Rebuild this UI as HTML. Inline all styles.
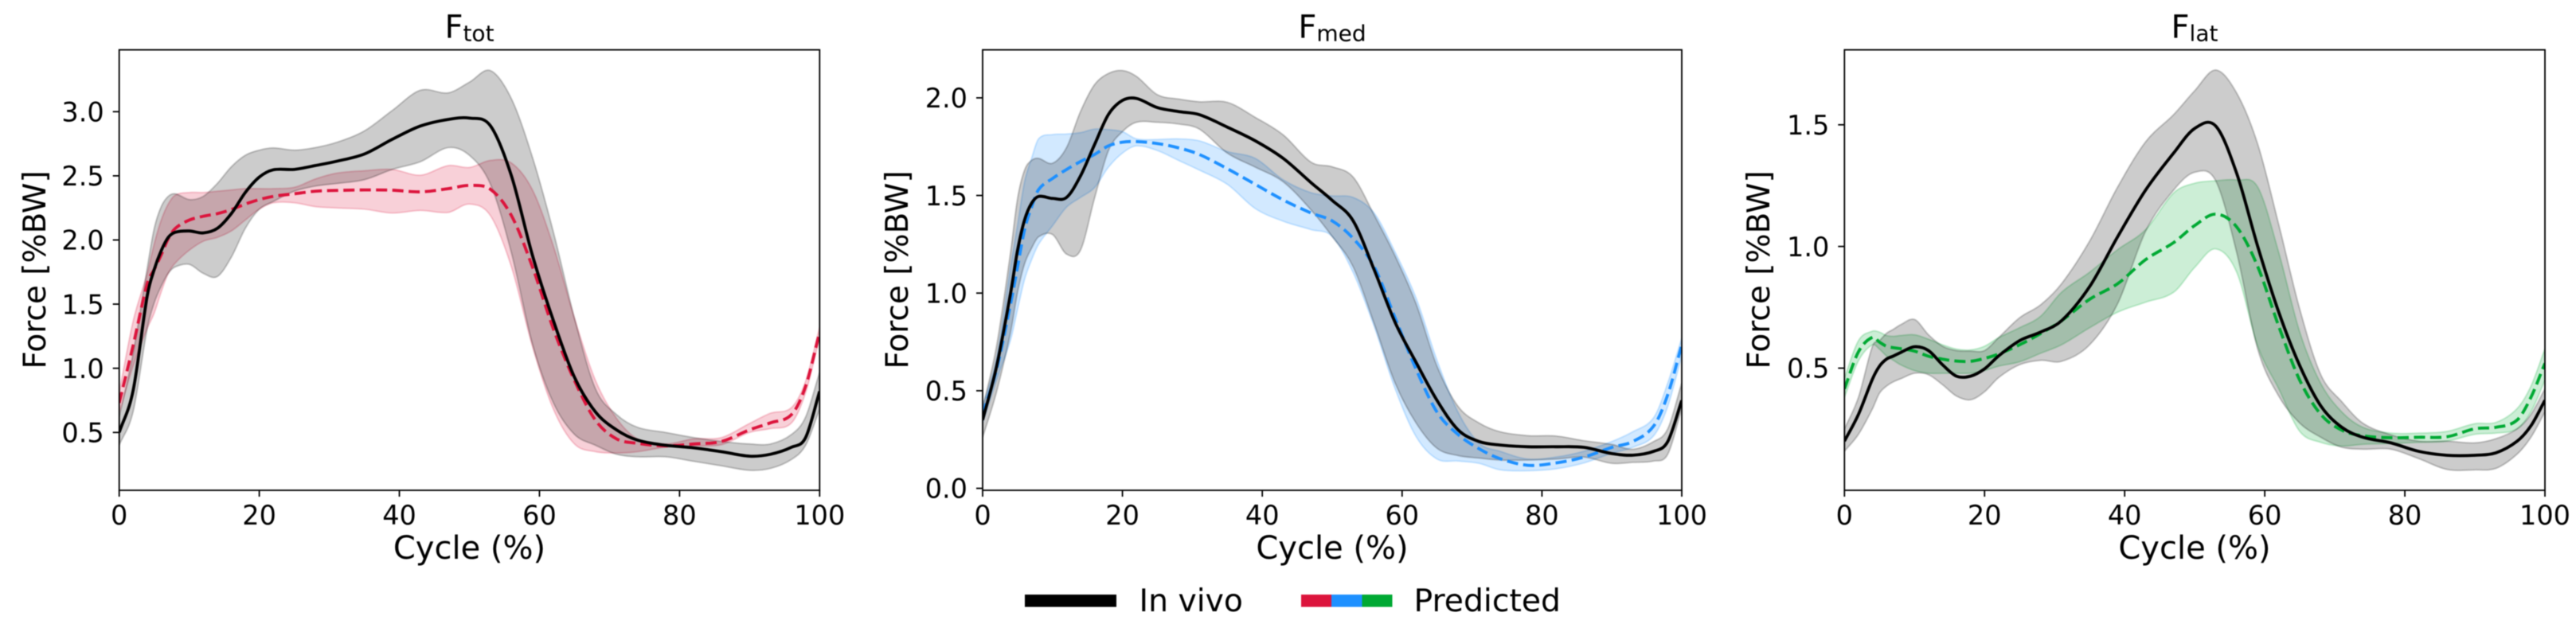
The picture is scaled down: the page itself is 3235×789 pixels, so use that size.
<!DOCTYPE html>
<html lang="en">
<head>
<meta charset="utf-8">
<title>Force vs cycle</title>
<style>
html,body{margin:0;padding:0;background:#fff;}
svg{display:block;font-family:"DejaVu Sans","Liberation Sans",sans-serif;fill:#000;filter:blur(0.5px);}
</style>
</head>
<body>
<svg id="chart" xmlns="http://www.w3.org/2000/svg" width="3235" height="789" viewBox="0 0 3235 789">
  <rect width="3235" height="789" fill="#fff"/>
  <g id="marks"></g>

  <text x="589.5" y="47.7" text-anchor="middle" font-size="40">F<tspan font-size="28" dy="4">tot</tspan></text>
  <text x="1673" y="47.7" text-anchor="middle" font-size="40">F<tspan font-size="28" dy="4">med</tspan></text>
  <text x="2756" y="47.7" text-anchor="middle" font-size="40">F<tspan font-size="28" dy="4">lat</tspan></text>

  <text x="589.5" y="702" text-anchor="middle" font-size="40">Cycle (%)</text>
  <text x="1673" y="702" text-anchor="middle" font-size="40">Cycle (%)</text>
  <text x="2756" y="702" text-anchor="middle" font-size="40">Cycle (%)</text>

  <text transform="translate(57,339) rotate(-90)" text-anchor="middle" font-size="39">Force [%BW]</text>
  <text transform="translate(1140,339) rotate(-90)" text-anchor="middle" font-size="39">Force [%BW]</text>
  <text transform="translate(2222,339) rotate(-90)" text-anchor="middle" font-size="39">Force [%BW]</text>

  <g>
    <rect x="1287" y="747" width="115" height="15.5" fill="#000"/>
    <text x="1430.5" y="768" font-size="39.3">In vivo</text>
    <rect x="1634" y="747" width="38.5" height="15.5" fill="#DC143C"/>
    <rect x="1672" y="747" width="39" height="15.5" fill="#1E90FF"/>
    <rect x="1710.5" y="747" width="38" height="15.5" fill="#00A933"/>
    <text x="1775.5" y="768" font-size="39.3">Predicted</text>
  </g>
</svg>
<script>
const cyclePercent = [0,2,4,5,6,7,8,10,12,14,16,18,20,22,25,28,31,35,39,43,47,50,53,56,59,62,65,68,71,74,78,82,86,90,93,96,98,100];

const xTickLabels = ['0','20','40','60','80','100'];
const xTickValues = [0,20,40,60,80,100];
const ftotYTicks = [0.5,1.0,1.5,2.0,2.5,3.0];
const fmedYTicks = [0.0,0.5,1.0,1.5,2.0];
const flatYTicks = [0.5,1.0,1.5];
const ftotYDomain = [0.049,3.482];
const fmedYDomain = [-0.010,2.246];
const flatYDomain = [-0.002,1.808];

const ftotInVivoMean = [.5,.83,1.565,1.77,1.917,2.02,2.06,2.07,2.055,2.09,2.205,2.37,2.49,2.547,2.55,2.58,2.613,2.67,2.785,2.888,2.94,2.95,2.89,2.50,1.88,1.37,.93,.66,.52,.44,.40,.38,.35,.315,.33,.385,.46,.82];
const ftotInVivoHigh = [.62,1.12,1.78,2.09,2.26,2.34,2.36,2.315,2.34,2.44,2.57,2.66,2.70,2.717,2.70,2.72,2.76,2.85,3.01,3.167,3.147,3.23,3.32,3.10,2.645,2.06,1.39,.84,.64,.54,.50,.46,.43,.41,.41,.485,.62,.97];
const ftotInVivoLow = [.40,.665,1.31,1.51,1.64,1.74,1.79,1.81,1.74,1.715,1.865,2.09,2.24,2.30,2.38,2.42,2.44,2.47,2.55,2.61,2.72,2.66,2.435,1.90,1.19,.73,.485,.40,.33,.31,.31,.275,.24,.205,.22,.29,.40,.68];
const ftotPredMean = [.73,1.18,1.66,1.77,1.885,2.01,2.09,2.155,2.185,2.205,2.237,2.28,2.315,2.34,2.36,2.38,2.386,2.39,2.388,2.375,2.40,2.425,2.395,2.19,1.79,1.305,.905,.595,.45,.415,.395,.41,.43,.52,.575,.64,.86,1.28];
const ftotPredHigh = [.81,1.37,1.74,1.97,2.155,2.28,2.35,2.37,2.37,2.38,2.39,2.40,2.40,2.40,2.41,2.475,2.52,2.54,2.55,2.505,2.58,2.565,2.62,2.60,2.39,1.95,1.39,.905,.61,.45,.41,.45,.46,.57,.65,.695,.90,1.32];
const ftotPredLow = [.65,1.02,1.31,1.43,1.595,1.74,1.82,1.92,1.99,2.02,2.07,2.155,2.24,2.29,2.29,2.26,2.25,2.24,2.21,2.23,2.215,2.28,2.19,1.79,1.17,.68,.41,.35,.34,.35,.385,.395,.405,.50,.53,.575,.81,1.24];

const fmedInVivoMean = [.35,.625,1.0,1.22,1.375,1.46,1.495,1.485,1.49,1.60,1.76,1.915,1.987,1.997,1.95,1.93,1.914,1.85,1.78,1.69,1.565,1.475,1.37,1.12,.85,.645,.45,.30,.24,.222,.213,.213,.21,.178,.17,.19,.24,.45];
const fmedInVivoHigh = [.41,.73,1.21,1.485,1.63,1.68,1.69,1.665,1.745,1.93,2.067,2.125,2.14,2.11,2.016,1.994,1.98,1.977,1.90,1.81,1.67,1.647,1.594,1.40,1.19,.945,.625,.42,.335,.29,.27,.268,.244,.225,.20,.24,.305,.54];
const fmedInVivoLow = [.26,.495,.80,1.005,1.15,1.23,1.288,1.30,1.20,1.22,1.485,1.73,1.827,1.875,1.875,1.866,1.84,1.717,1.645,1.57,1.425,1.29,1.135,.845,.54,.335,.205,.168,.155,.145,.145,.15,.16,.128,.133,.14,.175,.41];
const fmedPredMean = [.38,.61,.945,1.135,1.325,1.44,1.53,1.587,1.633,1.674,1.71,1.754,1.773,1.776,1.766,1.744,1.71,1.637,1.557,1.477,1.41,1.37,1.28,1.135,.873,.61,.39,.276,.203,.152,.118,.13,.16,.21,.24,.32,.48,.735];
const fmedPredHigh = [.42,.67,1.135,1.35,1.57,1.69,1.79,1.812,1.815,1.822,1.84,1.837,1.827,1.79,1.787,1.79,1.78,1.725,1.69,1.58,1.514,1.498,1.49,1.41,1.21,.975,.655,.39,.232,.19,.15,.16,.19,.24,.29,.363,.54,.77];
const fmedPredLow = [.335,.555,.76,.917,1.07,1.17,1.25,1.345,1.44,1.49,1.54,1.645,1.717,1.754,1.73,1.68,1.63,1.557,1.433,1.368,1.325,1.29,1.105,.83,.51,.265,.15,.14,.128,.095,.09,.10,.13,.18,.21,.27,.42,.68];

const flatInVivoMean = [.2,.31,.455,.508,.537,.55,.564,.588,.572,.514,.467,.467,.497,.55,.613,.648,.695,.835,1.04,1.232,1.384,1.485,1.495,1.30,1.0,.73,.51,.345,.257,.216,.193,.158,.142,.142,.152,.199,.263,.368];
const flatInVivoHigh = [.25,.38,.59,.613,.643,.66,.678,.70,.637,.59,.572,.57,.572,.625,.707,.76,.847,1.022,1.244,1.43,1.542,1.64,1.725,1.63,1.42,1.09,.742,.473,.362,.274,.226,.2,.2,.193,.21,.25,.31,.415];
const flatInVivoLow = [.158,.228,.333,.397,.426,.444,.456,.479,.473,.432,.385,.37,.403,.461,.514,.532,.528,.596,.765,1.063,1.232,1.305,1.27,.975,.578,.385,.274,.216,.175,.167,.167,.128,.084,.082,.088,.146,.216,.32];
const flatPredMean = [.415,.567,.627,.607,.59,.584,.58,.57,.549,.537,.529,.528,.54,.558,.596,.642,.695,.783,.847,.946,1.016,1.086,1.133,1.08,.917,.672,.45,.31,.245,.222,.214,.216,.218,.251,.257,.286,.38,.52];
const flatPredHigh = [.46,.613,.652,.648,.634,.631,.634,.637,.619,.596,.578,.575,.59,.625,.666,.713,.812,.894,.987,1.069,1.22,1.26,1.27,1.273,1.244,.975,.648,.437,.32,.257,.233,.233,.24,.272,.277,.333,.426,.58];
const flatPredLow = [.38,.53,.596,.578,.55,.532,.514,.49,.479,.479,.479,.479,.49,.508,.526,.561,.596,.666,.73,.771,.812,.914,.99,.894,.59,.415,.24,.195,.18,.187,.19,.195,.2,.228,.233,.25,.32,.45];

const SVGNS = 'http://www.w3.org/2000/svg';
const marks = document.getElementById('marks');
const axTop = 62.6, axBottom = 616;

function svgEl(tag, parent){
  const el = document.createElementNS(SVGNS, tag);
  parent.appendChild(el);
  return el;
}
function curvePoints(xFn, yFn, vals){
  return vals.map((v,i)=>[xFn(cyclePercent[i]), yFn(v)]);
}
function smoothSegments(pts){
  const n = pts.length;
  const m = pts.map((p,i)=>{
    if(i===0) return (pts[1][1]-p[1])/(pts[1][0]-p[0]);
    if(i===n-1) return (p[1]-pts[n-2][1])/(p[0]-pts[n-2][0]);
    return (pts[i+1][1]-pts[i-1][1])/(pts[i+1][0]-pts[i-1][0]);
  });
  let d = '';
  for(let i=0;i<n-1;i++){
    const h = (pts[i+1][0]-pts[i][0])/3;
    d += 'C'+(pts[i][0]+h).toFixed(2)+' '+(pts[i][1]+m[i]*h).toFixed(2)+' '+(pts[i+1][0]-h).toFixed(2)+' '+(pts[i+1][1]-m[i+1]*h).toFixed(2)+' '+pts[i+1][0].toFixed(2)+' '+pts[i+1][1].toFixed(2);
  }
  return d;
}
function linePath(pts){
  return 'M'+pts[0][0].toFixed(2)+' '+pts[0][1].toFixed(2)+smoothSegments(pts);
}
function bandPath(hiPts, loPts){
  const rev = loPts.slice().reverse();
  return linePath(hiPts)+'L'+rev[0][0].toFixed(2)+' '+rev[0][1].toFixed(2)+smoothSegments(rev)+'Z';
}

function drawPanel(key, left, right, yDomain, yTicks, color, mean, hi, lo, pMean, pHi, pLo){
  const xFn = v => left + (right-left)*v/100;
  const yFn = v => axBottom - (axBottom-axTop)*(v-yDomain[0])/(yDomain[1]-yDomain[0]);

  const panel = svgEl('g', marks);
  
  

  const clip = svgEl('clipPath', panel);
  clip.setAttribute('id', 'clip-'+key);
  const clipRect = svgEl('rect', clip);
  clipRect.setAttribute('x', left);
  clipRect.setAttribute('y', axTop);
  clipRect.setAttribute('width', right-left);
  clipRect.setAttribute('height', axBottom-axTop);

  const plot = svgEl('g', panel);
  plot.setAttribute('clip-path', 'url(#clip-'+key+')');

  const predBand = svgEl('path', plot);
  
  
  predBand.setAttribute('d', bandPath(curvePoints(xFn,yFn,pHi), curvePoints(xFn,yFn,pLo)));
  predBand.setAttribute('fill', color);
  predBand.setAttribute('fill-opacity', '0.2');
  predBand.setAttribute('stroke', color);
  predBand.setAttribute('stroke-opacity', '0.2');
  predBand.setAttribute('stroke-width', '2');

  const vivoBand = svgEl('path', plot);
  
  
  vivoBand.setAttribute('d', bandPath(curvePoints(xFn,yFn,hi), curvePoints(xFn,yFn,lo)));
  vivoBand.setAttribute('fill', '#000');
  vivoBand.setAttribute('fill-opacity', '0.2');
  vivoBand.setAttribute('stroke', '#000');
  vivoBand.setAttribute('stroke-opacity', '0.2');
  vivoBand.setAttribute('stroke-width', '2');

  const predLine = svgEl('path', plot);
  
  
  predLine.setAttribute('d', linePath(curvePoints(xFn,yFn,pMean)));
  predLine.setAttribute('fill', 'none');
  predLine.setAttribute('stroke', color);
  predLine.setAttribute('stroke-width', '3.8');
  predLine.setAttribute('stroke-dasharray', '14 6.5');

  const vivoLine = svgEl('path', plot);
  
  
  vivoLine.setAttribute('d', linePath(curvePoints(xFn,yFn,mean)));
  vivoLine.setAttribute('fill', 'none');
  vivoLine.setAttribute('stroke', '#000');
  vivoLine.setAttribute('stroke-width', '3.8');

  const frame = svgEl('rect', panel);
  
  
  frame.setAttribute('x', left);
  frame.setAttribute('y', axTop);
  frame.setAttribute('width', right-left);
  frame.setAttribute('height', axBottom-axTop);
  frame.setAttribute('fill', 'none');
  frame.setAttribute('stroke', '#000');
  frame.setAttribute('stroke-width', '1.8');

  xTickValues.forEach((v,i)=>{
    const tick = svgEl('line', panel);
    
    
    tick.setAttribute('x1', xFn(v));
    tick.setAttribute('x2', xFn(v));
    tick.setAttribute('y1', axBottom);
    tick.setAttribute('y2', axBottom+8);
    tick.setAttribute('stroke', '#000');
    tick.setAttribute('stroke-width', '1.8');
    const label = svgEl('text', panel);
    
    
    label.setAttribute('x', xFn(v));
    label.setAttribute('y', 659);
    label.setAttribute('text-anchor', 'middle');
    label.setAttribute('font-size', '33.5');
    label.textContent = xTickLabels[i];
  });

  yTicks.forEach(v=>{
    const tick = svgEl('line', panel);
    
    
    tick.setAttribute('x1', left-8);
    tick.setAttribute('x2', left);
    tick.setAttribute('y1', yFn(v));
    tick.setAttribute('y2', yFn(v));
    tick.setAttribute('stroke', '#000');
    tick.setAttribute('stroke-width', '1.8');
    const label = svgEl('text', panel);
    
    
    label.setAttribute('x', left-19);
    label.setAttribute('y', yFn(v)+12.2);
    label.setAttribute('text-anchor', 'end');
    label.setAttribute('font-size', '33.5');
    label.textContent = v.toFixed(1);
  });
}

drawPanel('ftot', 149.7, 1029.3, ftotYDomain, ftotYTicks, '#DC143C', ftotInVivoMean, ftotInVivoHigh, ftotInVivoLow, ftotPredMean, ftotPredHigh, ftotPredLow);
drawPanel('fmed', 1234, 2112, fmedYDomain, fmedYTicks, '#1E90FF', fmedInVivoMean, fmedInVivoHigh, fmedInVivoLow, fmedPredMean, fmedPredHigh, fmedPredLow);
drawPanel('flat', 2316.3, 3196, flatYDomain, flatYTicks, '#00A933', flatInVivoMean, flatInVivoHigh, flatInVivoLow, flatPredMean, flatPredHigh, flatPredLow);
</script>
</body>
</html>
